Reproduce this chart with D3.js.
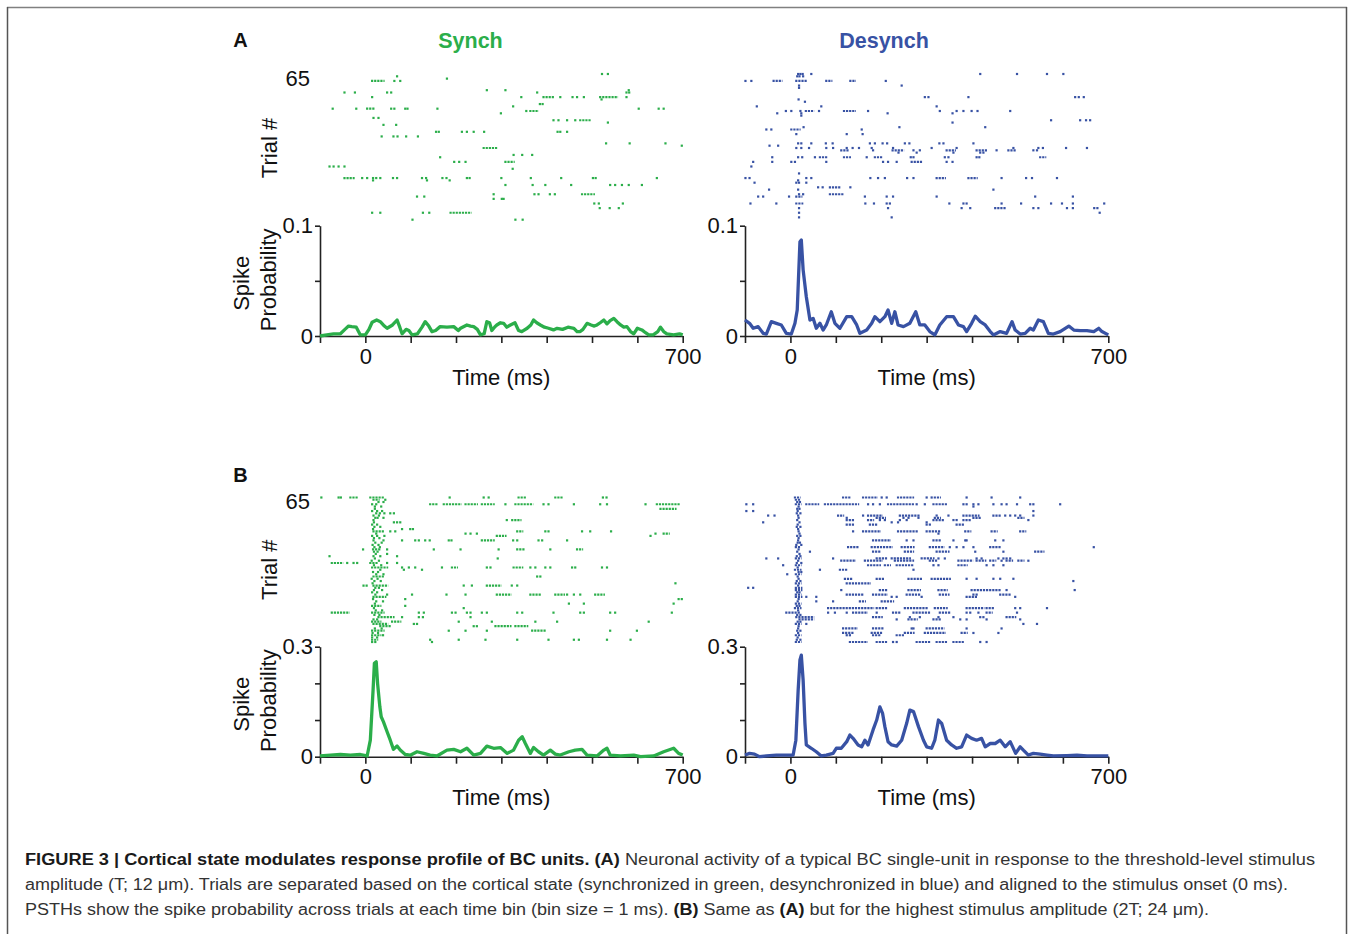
<!DOCTYPE html>
<html><head><meta charset="utf-8">
<script src="https://cdn.jsdelivr.net/npm/d3@7"></script>
<style>body{margin:0;background:#fff} svg{display:block}</style>
</head><body><svg id="fig" width="1354" height="934"></svg>
<script>
// ---------- data ----------
const conditions = ["Synch", "Desynch"];
const panelLetters = ["A", "B"];
const timeDomain = [-100, 700];
const timeTicks = [-100, 0, 100, 200, 300, 400, 500, 600, 700];
const timeTickLabels = ["", "0", "", "", "", "", "", "", "700"];
const trialDomain = [1, 65];
const trialTopLabel = "65";
const probDomainA = [0, 0.1];
const probTicksA = [0, 0.05, 0.1];
const probTickLabelsA = ["0", "", "0.1"];
const probDomainB = [0, 0.3];
const probTicksB = [0, 0.1, 0.2, 0.3];
const probTickLabelsB = ["0", "", "", "0.3"];
const xTitle = "Time (ms)";
const rasterTitle = "Trial #";
const psthTitle = ["Spike", "Probability"];

// raster rows: [trial, spikes]; a number = one spike (ms), [t0,t1] = burst of spikes
const rasterSynchA = [
 [65,[522,535]],[64,[70]],[63,[180]],[62,[[15,40],64,77]],[58,[268,309,581]],
 [57,[-46,-23,48,57,379,576,582]],[55,[15,344,[393,415],430,457,467,482,[518,555],576]],
 [54,[521]],[52,[385,391]],[51,[326]],[50,[-72,-20,[4,18],57,64,88,93,159,603,647,658]],
 [49,[355,[364,380]]],[48,[299]],[46,[18,29]],[45,[415,426,445,463,[474,496]]],[44,[535]],
 [43,[40,68]],[40,[156,162,213,224,239,262,424,430,445]],[38,[36,62,71,90,116]],
 [35,[531,583,662]],[34,[698]],[33,[[261,290]]],[30,[327,346,368]],[29,[165]],
 [27,[196,207,221,[309,327]]],[25,[-79,-70,-59,-46]],[24,[325]],
 [20,[[-46,-26],-7,4,17,24,33,61,70,125,134,170,179,224,230,300,365,432,502,508,643]],
 [19,[17,136,186]],[17,[309,369,397,454,540,551,566,581,610]],
 [13,[283,373,382,407,418,[478,504]]],[12,[114,130]],[11,[283,301,305]],
 [9,[505,515,568]],[7,[517,539,559]],[5,[15,33,127,141,[188,232]]],[2,[104,331,347]]
];
const rasterDesynchA = [
 [65,[17,22,27,46,418,499,565,601]],[64,[15,20,28]],
 [62,[-99,-86,[-37,-20],[13,34],[79,90],[132,142],210]],[60,[19,245]],[59,[19]],
 [55,[296,304,392,627,635,646]],[54,[18]],[53,[32]],[51,[-74,68,322]],
 [49,[-10,2,22,[34,50],63,[118,142],171,329,366,381,399,412,484]],
 [48,[-29,24,214,357]],[47,[24]],[45,[574,638,651,660]],[44,[357]],[42,[29,240,429]],
 [41,[-53,-42,[2,20],157]],[39,[13,124,159]],
 [35,[17,24,46,78,93,175,186,203,213,252,262,328,337,403]],[34,[-46,-27]],
 [33,[13,24,41,79,94,124,137,151,179,226,311,366,491,546,556,607,653]],
 [32,[[112,127],182,[225,248],271,285,[344,362],[410,432],454,[480,495],535,543]],
 [31,[238,278,359,418,425]],
 [29,[-40,17,26,54,[65,79],[118,131],168,[186,201],265,271,340,348,410,416,[550,561]]],
 [27,[-82,-40,2,10,79,204,215,234,[267,289],344,357]],[25,[-86]],[22,[19]],
 [20,[-99,-90,35,46,176,193,208,257,271,[322,340],[392,410],465,519,532,587]],
 [19,[17]],[18,[-79,13,19,35]],[16,[61,71,[87,109],132]],[15,[-47,17,447]],
 [13,[19,28,[87,115]]],[12,[-71,-60,-3,[13,24],164,212,226,322,539,622]],
 [9,[-88,-31,[13,26],165,184,212,219,350,381,388,465,508,574,598,622,691]],
 [7,[19,215,377,396,[451,473],535,546,609,622,669,676]],[5,[19,681]],[3,[19,223]]
];
const rasterSynchB = [
 [65,[-97,-59,-54,[-33,-18],[11,40],186,261,272,[338,353],[419,434],524,532]],
 [64,[[18,29],44]],[63,[29,40]],
 [62,[15,24,[143,158],[173,210],[221,246],[257,283],309,[331,368],393,404,460,518,533,618,[643,691]]],
 [61,[21,35]],[60,[21,[651,684]]],[59,[15,26,37]],[58,[24,32,42,55,63]],[57,[18,30]],
 [56,[22,27,40]],[55,[18,312,[324,342]]],[54,[19,63,70,77]],[53,[15,26]],[52,[20,33]],
 [51,[17,81,99,105]],[50,[[18,40],55,66,[335,346],397,404,478,496,542]],
 [49,[24,221,232,246,640,[658,669]]],[48,[15,26,42,[290,309],629]],[47,[19,31]],
 [46,[18,40,81,110,118,132,142,184,190,[257,283],326,335,382,390,445]],
 [45,[22,36]],[44,[16,29]],[43,[20,32]],
 [42,[-5,[17,32],48,151,210,294,[335,349],408,[467,478]]],[41,[19,27]],[40,[23,48]],
 [39,[-79,18,33,70]],[38,[21,292]],[37,[14,30]],[36,[[-74,-51],-40,-26,-18,[11,26],48,70]],
 [35,[19,35]],
 [34,[[15,48],81,96,110,169,[191,202],268,276,[327,346],364,375,397,408,456,463,522,533]],
 [33,[33,85,125]],[32,[17,28]],[31,[24,40]],[30,[[18,40],379,386]],[29,[14,27]],
 [28,[20,34]],[27,[16,684]],[26,[[-4,4],[18,48],217,235,[268,298],323,335]],
 [25,[22,30]],[24,[19,37]],[23,[15,26]],
 [22,[22,48,103,179,221,[290,320],[364,386],[419,438],445,460,474,[507,526]]],
 [21,[[18,44]]],[20,[17,88,691,698]],[19,[24,39]],[18,[21,449,482,680]],
 [17,[[15,33],88]],[16,[19,217]],[15,[23,37]],
 [14,[[-74,-37],[15,40],118,129,191,199,224,232,257,268,335,346,415,474,482,540,551,676]],
 [13,[20,31]],[12,[[29,62],81,118,127,232]],[11,[18,26]],
 [10,[[15,33],[59,77],206,279,375,423,625]],[9,[[18,48],107,114]],
 [8,[[33,55],239,246,[287,320],[331,357]]],[7,[21,36]],
 [6,[[15,40],184,221,268,[368,397],540,599]],[5,[16,28]],[4,[[15,33],39]],[3,[15,26]],
 [2,[[15,26],143,206,265,335,404,460,471,533,585]],[1,[15,22,147]]
];
const rasterDesynchB = [
 [65,[[10,20],[116,131],[160,190],201,212,[237,270],300,311,[318,329],388,443,506]],
 [64,[[12,20]]],[63,[15,21]],
 [62,[-97,-82,[12,22],[35,61],[76,149],171,182,197,[215,270],278,296,[315,344],381,388,403,414,447,465,476,499,528,535,594]],
 [61,[18,403]],[60,[15,20]],[59,[-97,-82,16,535]],[58,[14,22]],
 [57,[-49,-35,17,[105,116],160,[171,201],[241,282],322,348,[381,414],[447,461],473,484,495,506,535]],
 [56,[18,124,[190,208],249,260,282,[318,329],[403,418],[502,513]]],
 [55,[15,[124,138],[171,182],197,208,241,256,[315,337],359,366,[381,396],524]],
 [54,[-60,20,223,237,300]],[53,[16,[124,138],[175,190],300,307,[366,381]]],
 [52,[14,22]],[51,[17]],
 [50,[18,138,[160,197],[237,278],[300,329],[385,396],[443,454],[506,517]]],
 [49,[20,326]],[48,[15,22]],[47,[18]],
 [46,[17,[182,219],256,271,[315,329],359,385,388,451,469]],[45,[16,21]],[44,[13,24]],
 [43,[[12,20],[127,149],[179,223],[245,271],[307,337],351,366,381,403,[440,462],668]],
 [42,[18]],[41,[15,43,[182,197],[252,270],[322,348],407,469,[539,557]]],[40,[20]],[39,[14,22]],
 [38,[-53,-27,[12,22],94,[190,212],[223,263],[289,315],326,340,410,421,458,469,476,484]],
 [37,[17,[112,142],[164,201],[230,270],[307,322],[370,400],[410,429],[440,451],465,[476,488],[502,513],524]],
 [36,[14,24]],
 [35,[-16,[12,22],[171,197],[208,219],[234,270],315,326,[370,388],432,447,469]],
 [34,[16]],[33,[[10,22],65,[109,124],271]],[32,[18,24]],[31,[-7,[12,22]]],[30,[16]],
 [29,[18,[120,135],[190,204],[260,289],[311,351],388,410,447,462,491]],
 [28,[14,22,623]],[27,[[12,22],[124,175]]],[26,[17]],[25,[-93,-82,[12,24]]],
 [24,[[12,24],112,[197,212],[260,285],[326,344],[399,462],476,626]],[23,[15,20]],
 [22,[[12,22],[124,160],[182,212],[256,285],[329,348],403,410,[462,484]]],
 [21,[[12,24],35,57,223,234,289,[388,410],495]],[20,[18]],
 [19,[16,57,94,[153,164],[201,226]]],[18,[[12,22]]],[17,[14,20]],
 [16,[[10,22],[83,182],[190,212],[252,300],[318,344],[388,425],[432,447],495,506,565]],
 [15,[17]],
 [14,[[-9,20],83,98,124,[138,168],190,[226,241],[271,307],[329,351],388,396,414,[432,443],499]],
 [13,[15,22]],[12,[[13,50],[182,201],263,285,326,359,418,425,[476,495]]],
 [11,[[20,50],234,[260,278],[315,329],374,388,432,506]],[10,[16,22]],
 [9,[[12,22],35,513,543]],[8,[18]],
 [7,[17,[116,146],[182,204],267,271,[300,337],388,465]],[6,[15,22]],
 [5,[17,[116,138],[179,201],[252,271],[296,340],[377,388],403,458]],
 [4,[[12,22],124,131,[182,197],[234,249]]],[3,[16]],[2,[14,22]],
 [1,[[12,22],[131,168],[190,212],226,234,[278,307],[322,344],[359,381],418,432]]
];

// PSTH: [time (ms), spike probability]
const psthSynchA = [[-100,0],[-85,0.001],[-70,0.002],[-55,0.002],[-45,0.006],[-37,0.009],[-30,0.0085],[-20,0.008],[-11,0.001],[0,0.001],[8,0.006],[15,0.0125],[25,0.0145],[33,0.013],[42,0.009],[48,0.007],[60,0.010],[70,0.0145],[76,0.008],[81,0.002],[90,0.006],[96,0.005],[103,0.001],[115,0.002],[125,0.008],[132,0.013],[140,0.009],[147,0.004],[155,0.005],[165,0.0085],[180,0.008],[195,0.0085],[205,0.005],[210,0.007],[224,0.010],[232,0.009],[239,0.0085],[247,0.006],[254,0.001],[262,0.002],[268,0.013],[274,0.012],[279,0.005],[285,0.008],[290,0.010],[298,0.012],[305,0.0115],[312,0.008],[320,0.010],[330,0.012],[338,0.005],[345,0.004],[357,0.007],[365,0.010],[371,0.0145],[378,0.012],[386,0.010],[395,0.008],[404,0.007],[415,0.0055],[423,0.007],[435,0.006],[447,0.008],[460,0.007],[467,0.004],[474,0.004],[480,0.006],[489,0.0115],[498,0.010],[505,0.009],[511,0.010],[518,0.012],[526,0.0145],[533,0.011],[540,0.014],[548,0.016],[555,0.013],[563,0.010],[570,0.008],[577,0.0085],[585,0.004],[592,0.002],[600,0.007],[610,0.0055],[618,0.003],[625,0.001],[635,0.001],[645,0.004],[651,0.008],[658,0.004],[665,0.002],[680,0.001],[693,0.002],[700,0.001]];
const psthDesynchA = [[-100,0.0145],[-90,0.0115],[-82,0.007],[-71,0.0085],[-60,0.0024],[-53,0.0018],[-42,0.013],[-31,0.0115],[-20,0.010],[-9,0.0024],[2,0.0018],[10,0.0115],[15,0.0236],[21,0.0855],[24,0.087],[28,0.060],[35,0.0356],[43,0.0145],[50,0.016],[57,0.007],[65,0.0115],[72,0.0054],[79,0.010],[90,0.022],[98,0.0115],[109,0.007],[124,0.0175],[135,0.0175],[146,0.010],[153,0.0024],[168,0.0054],[179,0.0115],[186,0.0175],[197,0.013],[208,0.0175],[215,0.0236],[223,0.0115],[230,0.022],[237,0.010],[249,0.0085],[263,0.0115],[276,0.022],[285,0.010],[296,0.010],[307,0.004],[318,0.001],[329,0.010],[344,0.0175],[359,0.0175],[370,0.010],[381,0.0085],[388,0.004],[399,0.0115],[407,0.018],[418,0.013],[429,0.010],[440,0.004],[447,0.001],[462,0.004],[476,0.0024],[488,0.013],[495,0.0054],[506,0.0018],[517,0.0024],[528,0.007],[535,0.0054],[546,0.0145],[557,0.013],[568,0.0024],[579,0.0018],[594,0.004],[613,0.009],[624,0.0054],[638,0.0048],[653,0.0048],[668,0.004],[679,0.007],[686,0.004],[700,0.001]];
const psthSynchB = [[-100,0.002],[-77,0.0045],[-55,0.006],[-33,0.0045],[-11,0.006],[4,0.002],[11,0.045],[17,0.18],[20,0.255],[24,0.259],[27,0.20],[32,0.136],[35,0.109],[40,0.095],[48,0.068],[55,0.045],[62,0.020],[70,0.029],[77,0.018],[88,0.006],[99,0.004],[114,0.0135],[129,0.009],[143,0.0045],[158,0.002],[180,0.018],[195,0.020],[210,0.0135],[224,0.023],[239,0.0045],[254,0.009],[268,0.029],[283,0.023],[298,0.025],[313,0.009],[327,0.018],[338,0.045],[346,0.0545],[353,0.036],[364,0.009],[371,0.025],[382,0.0135],[393,0.0045],[408,0.018],[419,0.007],[430,0.0045],[449,0.0135],[463,0.018],[478,0.020],[489,0.0045],[511,0.002],[526,0.018],[533,0.023],[540,0.0045],[563,0.002],[592,0.0045],[607,0],[636,0.002],[658,0.0135],[680,0.023],[691,0.009],[700,0.0045]];
const psthDesynchB = [[-100,0.0045],[-90,0.009],[-79,0.007],[-68,0],[-53,0.002],[-31,0.0045],[-9,0.0045],[6,0.0045],[12,0.045],[17,0.18],[21,0.264],[24,0.277],[28,0.209],[32,0.091],[35,0.032],[46,0.023],[57,0.0135],[68,0.002],[79,0.0045],[94,0.009],[101,0.023],[112,0.023],[124,0.041],[131,0.059],[138,0.050],[149,0.032],[157,0.027],[164,0.045],[171,0.032],[182,0.073],[190,0.100],[197,0.136],[203,0.118],[208,0.082],[215,0.041],[223,0.032],[234,0.029],[245,0.045],[256,0.091],[263,0.127],[271,0.123],[282,0.082],[293,0.045],[300,0.027],[311,0.023],[318,0.045],[326,0.100],[333,0.091],[344,0.045],[355,0.032],[366,0.023],[377,0.027],[388,0.059],[399,0.050],[410,0.045],[421,0.050],[429,0.027],[440,0.036],[451,0.036],[462,0.045],[473,0.027],[484,0.041],[496,0.009],[506,0.027],[513,0.018],[524,0.0045],[535,0.009],[550,0.007],[565,0.0045],[579,0.002],[609,0.003],[631,0.004],[653,0.002],[700,0.002]];

const panels = [
  {row:0, col:0, raster:rasterSynchA, psth:psthSynchA},
  {row:0, col:1, raster:rasterDesynchA, psth:psthDesynchA},
  {row:1, col:0, raster:rasterSynchB, psth:psthSynchB},
  {row:1, col:1, raster:rasterDesynchB, psth:psthDesynchB}
];

const captionLines = [
  [["b","FIGURE 3 | Cortical state modulates response profile of BC units. (A)"],["n"," Neuronal activity of a typical BC single-unit in response to the threshold-level stimulus"]],
  [["n","amplitude (T; 12 \u03bcm). Trials are separated based on the cortical state (synchronized in green, desynchronized in blue) and aligned to the stimulus onset (0 ms)."]],
  [["n","PSTHs show the spike probability across trials at each time bin (bin size = 1 ms). "],["b","(B)"],["n"," Same as "],["b","(A)"],["n"," but for the highest stimulus amplitude (2T; 24 \u03bcm)."]]
];

// ---------- layout / style ----------
const colors = ["#2bae4a", "#3852a4"];
const font = "'Liberation Sans', Arial, Helvetica, sans-serif";
const xRanges = [[320, 682.7], [745, 1108.3]];
const rasterY = [[222, 74], [642, 497.5]];
const psthY = [[336, 225.7], [756.7, 646.7]];
const probDomains = [probDomainA, probDomainB];
const probTicks = [probTicksA, probTicksB];
const probTickLabels = [probTickLabelsA, probTickLabelsB];

const svg = d3.select("#fig");
svg.append("rect").attr("width",1354).attr("height",934).attr("fill","#fff");

// frame
svg.append("line").attr("x1",7).attr("x2",1347).attr("y1",7.5).attr("y2",7.5).attr("stroke","#808080").attr("stroke-width",1.5);
svg.append("line").attr("x1",7.5).attr("x2",7.5).attr("y1",7).attr("y2",934).attr("stroke","#555").attr("stroke-width",1.5);
svg.append("line").attr("x1",1346.5).attr("x2",1346.5).attr("y1",7).attr("y2",934).attr("stroke","#555").attr("stroke-width",1.5);

// panel letters and condition titles
panelLetters.forEach((L,i) => {
  svg.append("text").attr("x",240.5).attr("y", i===0 ? 47 : 481.5).attr("text-anchor","middle")
    .attr("font-family",font).attr("font-weight","bold").attr("font-size",20).attr("fill","#111").text(L);
});
conditions.forEach((c,i) => {
  svg.append("text").attr("x", i===0 ? 470.5 : 884).attr("y",47.5).attr("text-anchor","middle")
    .attr("font-family",font).attr("font-weight","bold").attr("font-size",21.5).attr("fill",colors[i]).text(c);
});

panels.forEach(p => {
  const color = colors[p.col];
  const x = d3.scaleLinear().domain(timeDomain).range(xRanges[p.col]);
  const yT = d3.scaleLinear().domain(trialDomain).range(rasterY[p.row]);
  const yP = d3.scaleLinear().domain(probDomains[p.row]).range(psthY[p.row]);
  const g = svg.append("g");

  // raster
  const singles = [], bursts = [];
  p.raster.forEach(([trial, items]) => items.forEach(it => {
    if (Array.isArray(it)) bursts.push({trial, t0: it[0], t1: it[1]});
    else singles.push({trial, t: it});
  }));
  g.append("g").selectAll("rect").data(singles).join("rect")
    .attr("x", d => x(d.t) - 1.1).attr("y", d => yT(d.trial) - 1.1)
    .attr("width", 2.2).attr("height", 2.2).attr("fill", color);
  g.append("g").selectAll("line").data(bursts).join("line")
    .attr("x1", d => x(d.t0) - 1.1).attr("x2", d => x(d.t1) + 1.1)
    .attr("y1", d => yT(d.trial)).attr("y2", d => yT(d.trial))
    .attr("stroke", color).attr("stroke-width", 2.2).attr("stroke-dasharray", "2.2,0.9");

  // axes
  const xAxis = d3.axisBottom(x).tickValues(timeTicks).tickSize(7).tickSizeOuter(0).tickPadding(5)
    .tickFormat((d,i) => timeTickLabels[i]);
  const yAxis = d3.axisLeft(yP).tickValues(probTicks[p.row]).tickSize(5).tickSizeOuter(0).tickPadding(2)
    .tickFormat((d,i) => probTickLabels[p.row][i]);
  const gx = g.append("g").attr("transform", `translate(0,${yP(0)})`).call(xAxis);
  const gy = g.append("g").attr("transform", `translate(${x(timeDomain[0])},0)`).call(yAxis);
  [gx, gy].forEach(a => {
    a.selectAll("path,line").attr("stroke","#222").attr("stroke-width",1.6);
    a.selectAll("text").attr("font-family",font).attr("font-size",22).attr("fill","#111");
  });

  // x title
  g.append("text").attr("x", x(300)).attr("y", yP(0) + 48.5).attr("text-anchor","middle")
    .attr("font-family",font).attr("font-size",22).attr("fill","#111").text(xTitle);

  // psth line
  g.append("path").datum(p.psth)
    .attr("d", d3.line().x(d => x(d[0])).y(d => yP(d[1])))
    .attr("fill","none").attr("stroke",color).attr("stroke-width",3.3).attr("stroke-linejoin","round");

  if (p.col === 0) {
    g.append("text").attr("x", 310).attr("y", yT(65) + 4).attr("dy","0.35em").attr("text-anchor","end")
      .attr("font-family",font).attr("font-size",22).attr("fill","#111").text(trialTopLabel);
    const rc = (yT(1) + yT(65)) / 2;
    g.append("text").attr("transform",`translate(277,${rc}) rotate(-90)`).attr("text-anchor","middle")
      .attr("font-family",font).attr("font-size",22).attr("fill","#111").text(rasterTitle);
    const pc = (yP(probDomains[p.row][0]) + yP(probDomains[p.row][1])) / 2;
    g.append("text").attr("transform",`translate(249,${pc + 2.5}) rotate(-90)`).attr("text-anchor","middle")
      .attr("font-family",font).attr("font-size",22).attr("fill","#111").text(psthTitle[0]);
    g.append("text").attr("transform",`translate(276,${pc - 1}) rotate(-90)`).attr("text-anchor","middle")
      .attr("font-family",font).attr("font-size",22).attr("fill","#111").text(psthTitle[1]);
  }
});

// caption
const capY = [865, 890, 915];
const capLen = [1290, 1263, 1184];
captionLines.forEach((parts, i) => {
  const t = svg.append("text").attr("x", 25).attr("y", capY[i])
    .attr("font-family", "'Liberation Sans Narrow', 'Liberation Sans', Arial, sans-serif")
    .attr("font-size", 16).attr("fill", "#2e2e2e")
    .attr("textLength", capLen[i]).attr("lengthAdjust", "spacingAndGlyphs");
  parts.forEach(([w, s]) => {
    t.append("tspan").attr("font-weight", w === "b" ? "bold" : "normal")
      .attr("fill", w === "b" ? "#1a1a1a" : "#333").text(s);
  });
});
</script>
</body></html>
